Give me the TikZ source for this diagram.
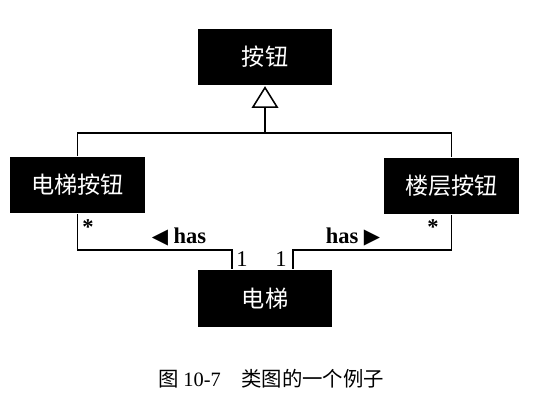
\documentclass[tikz,border=0pt]{standalone}
\usepackage{fontspec}
\setmainfont{Liberation Serif}
\newfontfamily\cjk{Noto Sans CJK SC}
\newfontfamily\symb{DejaVu Sans}
\usetikzlibrary{arrows.meta}
\tikzset{
  cls/.style={fill=black,text=white,inner sep=0pt,minimum width=3.35cm,minimum height=1.42cm,
    font=\cjk\fontsize{16.5}{19}\selectfont},
  role/.style={font=\bfseries\fontsize{16}{18}\selectfont,inner sep=1pt},
  inherit/.style={-{Triangle[open,length=15.5pt,width=19pt]}}
}
\begin{document}
\begin{tikzpicture}[x=0.025cm,y=-0.025cm,line width=1.1pt]
\useasboundingbox (0,0) rectangle (547,407);
% classes
\node[cls](btn)   at (265,57)  {按钮};
\node[cls](ebtn)  at (77.5,185){电梯按钮};
\node[cls](fbtn)  at (451.5,186){楼层按钮};
\node[cls](elev)  at (265,298.5){电梯};
% generalisation
\coordinate (j) at (265,133);
\draw (ebtn.north) |- (j) -| (fbtn.north);
\draw[inherit] (j) -- (btn.south);
% associations
\coordinate (la) at (232,250); \coordinate (ra) at (293,250);
\draw (ebtn.south) |- (la) -- (la |- elev.north);
\draw (fbtn.south) |- (ra) -- (ra |- elev.north);
\node[role] (s1) at (88,227) {*};
\node[role] (s2) at (433,227) {*};
\node[role] (h1) at (179,237) {{\symb\fontsize{15}{17}\selectfont ◀} has};
\node[role] (h2) at (353,237) {has {\symb\fontsize{15}{17}\selectfont ▶}};
\node[role,font=\fontsize{16}{18}\selectfont] (m1) at (242,259) {1};
\node[role,font=\fontsize{16}{18}\selectfont] (m2) at (281,259) {1};
% caption
\node[font=\fontsize{14.5}{17}\selectfont] (cap) at (271,379) {{\cjk 图} 10-7\hspace{1em}{\cjk 类图的一个例子}};
\end{tikzpicture}
\end{document}
